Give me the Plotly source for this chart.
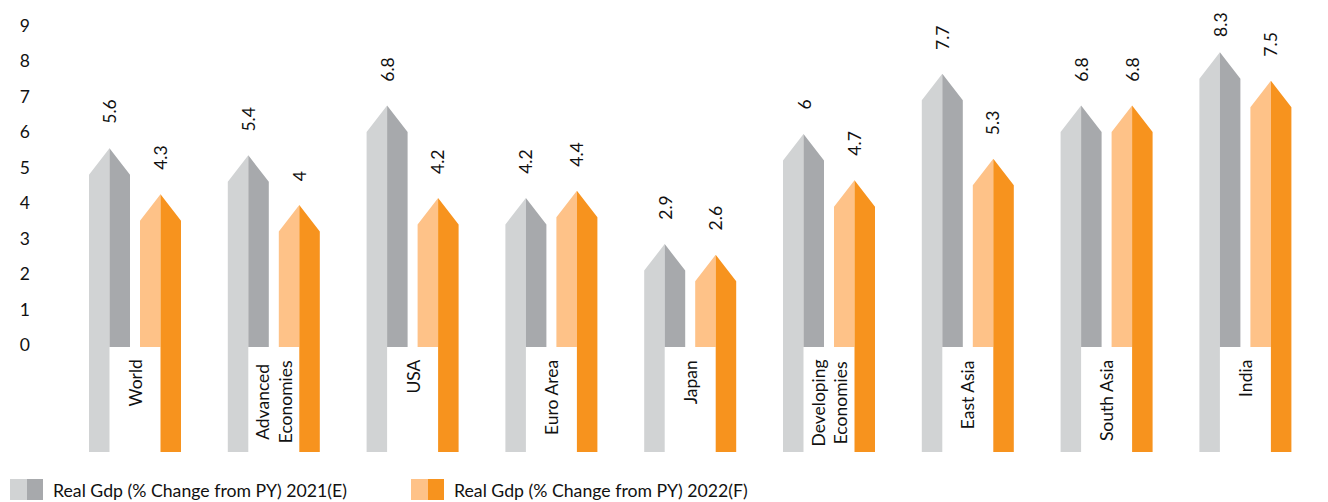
import plotly.graph_objects as go

categories = ["World", "Advanced<br>Economies", "USA", "Euro Area", "Japan",
              "Developing<br>Economies", "East Asia", "South Asia", "India"]
gdp_2021 = [5.6, 5.4, 6.8, 4.2, 2.9, 6.0, 7.7, 6.8, 8.3]
gdp_2022 = [4.3, 4.0, 4.2, 4.4, 2.6, 4.7, 5.3, 6.8, 7.5]
series_names = ["Real Gdp (% Change from PY) 2021(E)", "Real Gdp (% Change from PY) 2022(F)"]
y_ticks = list(range(0, 10))

# styling (page body has an 8px margin, so figure coords = screen coords - 8)
OFF = 8
W, H = 1328 - OFF, 502 - OFF
PX_PER_UNIT = 35.5
ZERO_PX = 347 - OFF
ML = 40
GROUP_PX = 138.8
FIRST_CENTER_PX = 135 - OFF
HALF_W = 20.5 / GROUP_PX          # half bar width in x units
OFFSET = 25.5 / GROUP_PX          # bar center offset from group center
TRI = 26.5 / PX_PER_UNIT          # tip height in y units
BOTTOM = -(452 - 347) / PX_PER_UNIT
LABEL_GAP = 22                    # px between tip and value label
LABEL_LEN = 30                    # approx rotated label length in px
FONT = "Lato"
LIGHT_GRAY, DARK_GRAY = "#D1D3D4", "#A7A9AC"
LIGHT_OR, DARK_OR = "#FEC288", "#F7931E"

x0 = -(FIRST_CENTER_PX - ML) / GROUP_PX
x1 = (W - FIRST_CENTER_PX) / GROUP_PX
y1 = ZERO_PX / PX_PER_UNIT
y0 = -(H - ZERO_PX) / PX_PER_UNIT
PLOT_W = W - ML

def halves(values, sign, left_long):
    lx, ly, rx, ry = [], [], [], []
    for i, v in enumerate(values):
        c = i + sign * OFFSET
        xl, xr = c - HALF_W, c + HALF_W
        lb = BOTTOM if left_long else 0
        rb = 0 if left_long else BOTTOM
        lx += [xl, xl, c, c, xl, None]
        ly += [lb, v - TRI, v, lb, lb, None]
        rx += [c, c, xr, xr, c, None]
        ry += [rb, v, v - TRI, rb, rb, None]
    return lx, ly, rx, ry

fig = go.Figure()
for vals, sign, left_long, (cl, cd), name in [
        (gdp_2021, -1, True, (LIGHT_GRAY, DARK_GRAY), series_names[0]),
        (gdp_2022, 1, False, (LIGHT_OR, DARK_OR), series_names[1])]:
    lx, ly, rx, ry = halves(vals, sign, left_long)
    fig.add_trace(go.Scatter(x=lx, y=ly, fill="toself", fillcolor=cl, mode="lines",
                             line=dict(width=0, color=cl), name=name, showlegend=False,
                             hoverinfo="skip"))
    fig.add_trace(go.Scatter(x=rx, y=ry, fill="toself", fillcolor=cd, mode="lines",
                             line=dict(width=0, color=cd), name=name, showlegend=False,
                             hoverinfo="skip"))
    for i, v in enumerate(vals):
        tip_px = ZERO_PX - v * PX_PER_UNIT
        shift = min(LABEL_GAP, tip_px - LABEL_LEN - 1)
        fig.add_annotation(x=i + sign * OFFSET, y=v, text=f"{v:g}", textangle=-90,
                           showarrow=False, xanchor="center", yanchor="bottom", yshift=shift,
                           font=dict(family=FONT, size=17.5, color="#111111"))

for i, cat in enumerate(categories):
    fig.add_annotation(x=i, y=0, text=cat, textangle=-90, showarrow=False,
                       xanchor="center", yanchor="top", yshift=-11, align="center",
                       font=dict(family=FONT, size=17.5, color="#111111"))

# legend (paper coords are relative to the plot area)
legend_items = [(10, LIGHT_GRAY, DARK_GRAY, series_names[0]),
                (411, LIGHT_OR, DARK_OR, series_names[1])]
for px, cl, cd, name in legend_items:
    fx = px - OFF - ML
    ytop, ybot = 479 - OFF, 500 - OFF
    fig.add_shape(type="rect", xref="paper", yref="paper",
                  x0=fx / PLOT_W, x1=(fx + 17) / PLOT_W, y0=1 - ybot / H, y1=1 - ytop / H,
                  fillcolor=cl, line=dict(width=0))
    fig.add_shape(type="rect", xref="paper", yref="paper",
                  x0=(fx + 17) / PLOT_W, x1=(fx + 33) / PLOT_W, y0=1 - ybot / H, y1=1 - ytop / H,
                  fillcolor=cd, line=dict(width=0))
    fig.add_annotation(xref="paper", yref="paper", x=(fx + 41) / PLOT_W, y=1 - (490.5 - OFF) / H,
                       text=name, showarrow=False, xanchor="left", yanchor="middle",
                       font=dict(family=FONT, size=17.7, color="#111111"))

fig.update_layout(
    width=W, height=H, margin=dict(l=ML, r=0, t=0, b=0),
    plot_bgcolor="white", paper_bgcolor="white", showlegend=False,
    xaxis=dict(range=[x0, x1], visible=False, fixedrange=True),
    yaxis=dict(range=[y0, y1], tickvals=y_ticks, ticktext=[str(t) for t in y_ticks],
               showgrid=False, zeroline=False, showline=False, ticks="",
               ticklabelstandoff=17, ticklabelshift=-2,
               tickfont=dict(family=FONT, size=17.5, color="#111111")),
)
fig.write_html("out.html")
